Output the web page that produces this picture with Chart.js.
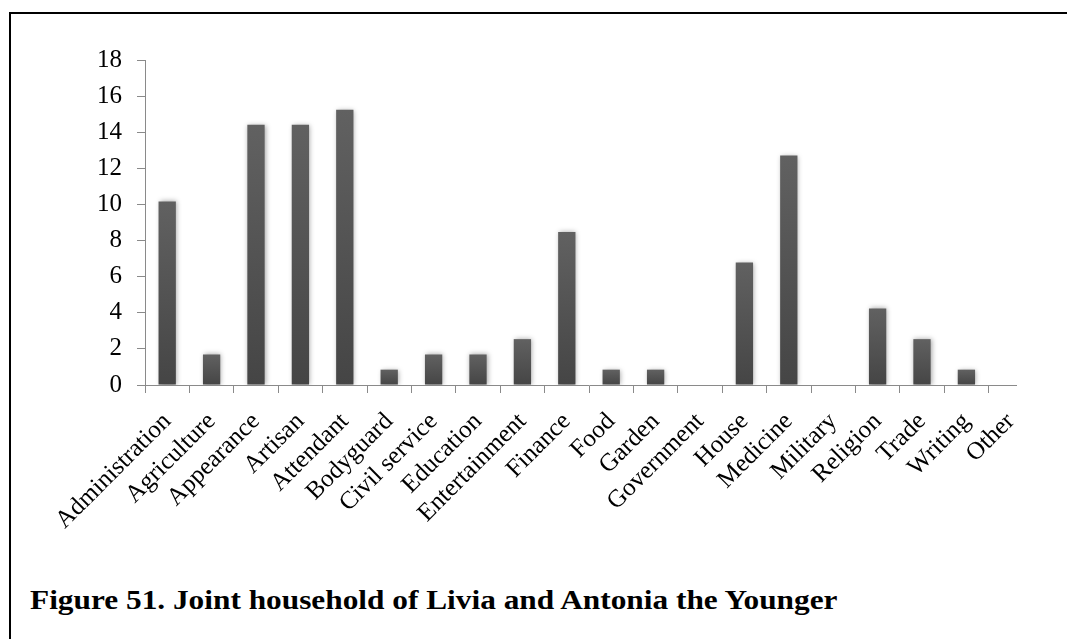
<!DOCTYPE html>
<html lang="en">
<head>
    <meta charset="UTF-8">
    <title>Joint household of Livia and Antonia the Younger</title>
    <script src="https://cdn.jsdelivr.net/npm/chart.js"></script>
    <style>
        body {
            margin: 0;
            background: #fff;
            width: 1067px;
            height: 639px;
            overflow: hidden;
            position: relative;
        }

        /* figure frame, runs off the page on the right and bottom */
        .frame {
            position: absolute;
            left: 9px;
            top: 12px;
            width: 2000px;
            height: 2000px;
            border-top: 2px solid #000;
            border-left: 2px solid #000;
        }

        /* chart picture is cropped a little on its right side */
        .crop {
            position: absolute;
            left: 0;
            top: 0;
            width: 1017px;
            height: 560px;
            overflow: hidden;
        }

        .chartBox {
            position: relative;
            width: 1060px;
            height: 560px;
        }

        .caption {
            position: absolute;
            left: 30px;
            top: 587px;
            font-family: "Liberation Serif", "Times New Roman", serif;
            font-weight: bold;
            font-size: 27px;
            line-height: 27px;
            color: #000;
            white-space: nowrap;
            transform-origin: 0 0;
            transform: scaleX(1.16);
        }
    </style>
</head>
<body>
    <div class="frame"></div>
    <div class="crop">
        <div class="chartBox">
            <canvas id="myChart"></canvas>
        </div>
    </div>
    <div class="caption">Figure 51. Joint household of Livia and Antonia the Younger</div>

    <script>
        // occupations (% of the household)
        const occupations = ['Administration', 'Agriculture', 'Appearance', 'Artisan', 'Attendant',
            'Bodyguard', 'Civil service', 'Education', 'Entertainment', 'Finance', 'Food', 'Garden',
            'Government', 'House', 'Medicine', 'Military', 'Religion', 'Trade', 'Writing', 'Other'];
        const percentages = [10.17, 1.69, 14.41, 14.41, 15.25, 0.85, 1.69, 1.69, 2.54, 8.47,
            0.85, 0.85, 0, 6.78, 12.71, 0, 4.24, 2.54, 0.85, 0];
        const yTicks = [0, 2, 4, 6, 8, 10, 12, 14, 16, 18];

        const axisColor = '#8a8a8a';
        const tickFont = { family: '"Liberation Serif", "Times New Roman", serif', size: 25 };

        // soft drop shadow behind the bars
        const barShadow = {
            id: 'barShadow',
            beforeDatasetsDraw(chart) {
                const c = chart.ctx;
                c.save();
                c.shadowColor = 'rgba(0, 0, 0, 0.35)';
                c.shadowBlur = 5;
                c.shadowOffsetX = 1;
                c.shadowOffsetY = 0;
            },
            afterDatasetsDraw(chart) {
                chart.ctx.restore();
            }
        };

        // each bar gets its own top-to-bottom shading
        function barFill(context) {
            const chart = context.chart;
            const yScale = chart.scales.y;
            if (!chart.chartArea || !yScale) return '#555';
            const yTop = yScale.getPixelForValue(context.raw);
            const yBase = yScale.getPixelForValue(0);
            if (yBase - yTop < 1) return '#555';
            const g = chart.ctx.createLinearGradient(0, yTop, 0, yBase);
            g.addColorStop(0, '#616161');
            g.addColorStop(1, '#454545');
            return g;
        }

        const ctx = document.getElementById('myChart').getContext('2d');
        const myChart = new Chart(ctx, {
            type: 'bar',
            data: {
                labels: occupations,
                datasets: [{
                    data: percentages,
                    backgroundColor: barFill,
                    borderWidth: 0,
                    barPercentage: 0.39,
                    categoryPercentage: 1
                }]
            },
            options: {
                responsive: true,
                maintainAspectRatio: false,
                animation: false,
                events: [],
                layout: {
                    padding: { left: 0, top: 60, right: 27, bottom: 0 }
                },
                plugins: {
                    legend: { display: false },
                    tooltip: { enabled: false }
                },
                scales: {
                    x: {
                        afterFit: scale => { scale.height = 175; },
                        grid: {
                            display: true,
                            drawOnChartArea: false,
                            drawTicks: true,
                            tickLength: 8,
                            offset: true,
                            color: axisColor
                        },
                        border: { display: true, color: axisColor, width: 1 },
                        ticks: {
                            autoSkip: false,
                            maxRotation: 45,
                            minRotation: 45,
                            padding: 14,
                            color: '#000',
                            font: tickFont
                        }
                    },
                    y: {
                        min: 0,
                        max: 18,
                        afterFit: scale => { scale.width = 145; },
                        afterBuildTicks: scale => {
                            scale.ticks = yTicks.map(v => ({ value: v }));
                        },
                        grid: {
                            display: true,
                            drawOnChartArea: false,
                            drawTicks: true,
                            tickLength: 8,
                            color: axisColor
                        },
                        border: { display: true, color: axisColor, width: 1 },
                        ticks: {
                            padding: 15,
                            color: '#000',
                            font: tickFont
                        }
                    }
                }
            },
            plugins: [barShadow]
        });
    </script>
</body>
</html>
